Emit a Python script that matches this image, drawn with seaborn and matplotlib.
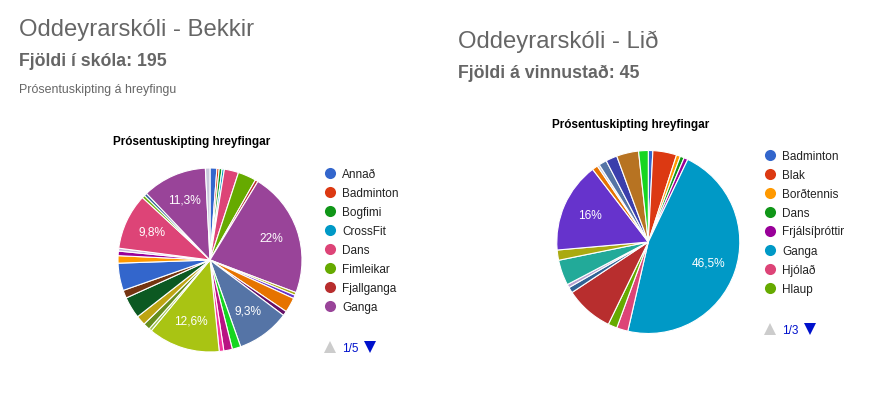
import matplotlib
matplotlib.use("Agg")
import matplotlib.pyplot as plt
import seaborn as sns
from matplotlib.lines import Line2D

W, H = 886, 393

# Bekkir - hlutfall (%) i sneidarod, rettsaelis fra kl. 12
bekkir_flokkar = [
    "Annað", "Badminton", "Bogfimi", "CrossFit", "Dans", "Fimleikar", "Fjallganga", "Ganga",
    "Golf", "Handbolti", "Hestamennska", "Hjólabretti", "Hlaup", "Hnefaleikar", "Jóga", "Júdó",
    "Knattspyrna", "Karate", "Körfubolti", "Líkamsrækt", "Línuskautar", "Lyftingar", "Skíði",
    "Skokk", "Sund", "Tennis", "Útivist", "Veggtennis", "Zumba", "Þrek", "Önnur",
]
bekkir_hlutfall = [
    1.2, 0.4, 0.5, 0.4, 2.5, 3.2, 0.5, 22.0,
    0.5, 0.6, 2.6, 0.8, 9.3, 1.5, 1.5, 0.8,
    12.6, 0.5, 1.2, 1.7, 3.8, 1.4, 4.8,
    1.3, 0.8, 0.5, 9.8, 0.5, 0.5, 11.3, 0.8,
]
bekkir_litir = [
    "#3366cc", "#dc3912", "#109618", "#0099c6", "#dd4477", "#66aa00", "#b82e2e", "#994499",
    "#aaaa11", "#6633cc", "#e67300", "#651067", "#5574a6", "#16d620", "#b91383", "#f4359e",
    "#a9c413", "#9cc04a", "#668d1c", "#bea413", "#0c5922", "#743411", "#3366cc",
    "#ff9900", "#990099", "#c9b8dd", "#dd4477", "#66aa00", "#316395", "#994499", "#c8c8dc",
]

# Lid - hlutfall (%)
lid_flokkar = [
    "Badminton", "Blak", "Borðtennis", "Dans", "Frjálsíþróttir", "Ganga", "Hjólað", "Hlaup",
    "Hnefaleikar", "Jóga", "Klifur", "Körfubolti", "Línuskautar", "Líkamsrækt", "Róður",
    "Skíði", "Sund", "Tennis", "Útivist", "Þrek",
]
lid_hlutfall = [
    0.8, 4.2, 0.7, 0.7, 0.7, 46.5, 2.0, 1.6,
    8.5, 1.0, 0.6, 4.5, 1.8, 16.0, 1.0,
    0.4, 1.4, 2.0, 3.9, 1.7,
]
lid_litir = [
    "#3366cc", "#dc3912", "#ff9900", "#109618", "#990099", "#0099c6", "#dd4477", "#66aa00",
    "#b82e2e", "#316395", "#b9a0d0", "#22aa99", "#aaaa11", "#6633cc", "#e67300",
    "#c5c8de", "#5574a6", "#3b3eac", "#b77322", "#16d620",
]

sns.set_theme(style="white")
plt.rcParams["font.family"] = ["Liberation Sans", "DejaVu Sans"]

fig = plt.figure(figsize=(W / 100, H / 100), dpi=100)


def fx(x):
    return x / W


def fy(y):
    return 1 - y / H


def pct_label(p):
    if p < 9:
        return ""
    s = f"{p:.1f}"
    if s.endswith(".0"):
        s = s[:-2]
    return s.replace(".", ",") + "%"


def draw_pie(cx, cy, r, values, colors):
    ax = fig.add_axes([fx(cx - r), fy(cy + r), 2 * r / W, 2 * r / H])
    ax.pie(values, colors=sns.color_palette(colors), startangle=90, counterclock=False,
           autopct=pct_label, pctdistance=0.7,
           wedgeprops=dict(edgecolor="white", linewidth=0.8),
           textprops=dict(color="white", fontsize=8.6))
    ax.set_xlim(-1, 1)
    ax.set_ylim(-1, 1)
    ax.axis("off")


def draw_legend(x, y0, labels, colors, page):
    for i, (lab, col) in enumerate(zip(labels[:8], colors[:8])):
        y = y0 + i * 19
        fig.add_artist(Line2D([fx(x)], [fy(y)], marker="o", markersize=8, color=col,
                              markeredgewidth=0, linestyle="none", transform=fig.transFigure))
        fig.text(fx(x + 12), fy(y), lab, fontsize=8.5, color="#222222", va="center_baseline")
    yp = y0 + 7 * 19 + 41
    fig.add_artist(Line2D([fx(x)], [fy(yp)], marker="^", markersize=9, color="#cccccc",
                          markeredgewidth=0, linestyle="none", transform=fig.transFigure))
    fig.text(fx(x + 12), fy(yp), page, fontsize=8.5, color="#0011cc", va="center_baseline")
    fig.add_artist(Line2D([fx(x + 40)], [fy(yp)], marker="v", markersize=9, color="#0011cc",
                          markeredgewidth=0, linestyle="none", transform=fig.transFigure))


grey = "#666666"

# vinstri hlid
fig.text(fx(19), fy(36), "Oddeyrarskóli - Bekkir", fontsize=17.2, color=grey)
fig.text(fx(19), fy(66.5), "Fjöldi í skóla: 195", fontsize=12.8, color=grey, fontweight="bold")
fig.text(fx(19), fy(93), "Prósentuskipting á hreyfingu", fontsize=8.9, color=grey)
fig.text(fx(113), fy(145), "Prósentuskipting hreyfingar", fontsize=8.5, color="black",
         fontweight="bold")
draw_pie(210, 260, 92, bekkir_hlutfall, bekkir_litir)
draw_legend(330, 173.3, bekkir_flokkar, bekkir_litir, "1/5")

# haegri hlid
fig.text(fx(458), fy(48), "Oddeyrarskóli - Lið", fontsize=17.2, color=grey)
fig.text(fx(458), fy(78), "Fjöldi á vinnustað: 45", fontsize=12.8, color=grey, fontweight="bold")
fig.text(fx(552), fy(128), "Prósentuskipting hreyfingar", fontsize=8.5, color="black",
         fontweight="bold")
draw_pie(648.3, 242, 91.5, lid_hlutfall, lid_litir)
draw_legend(770, 155, lid_flokkar, lid_litir, "1/3")

fig.savefig("out.png", dpi=100, facecolor="white")
